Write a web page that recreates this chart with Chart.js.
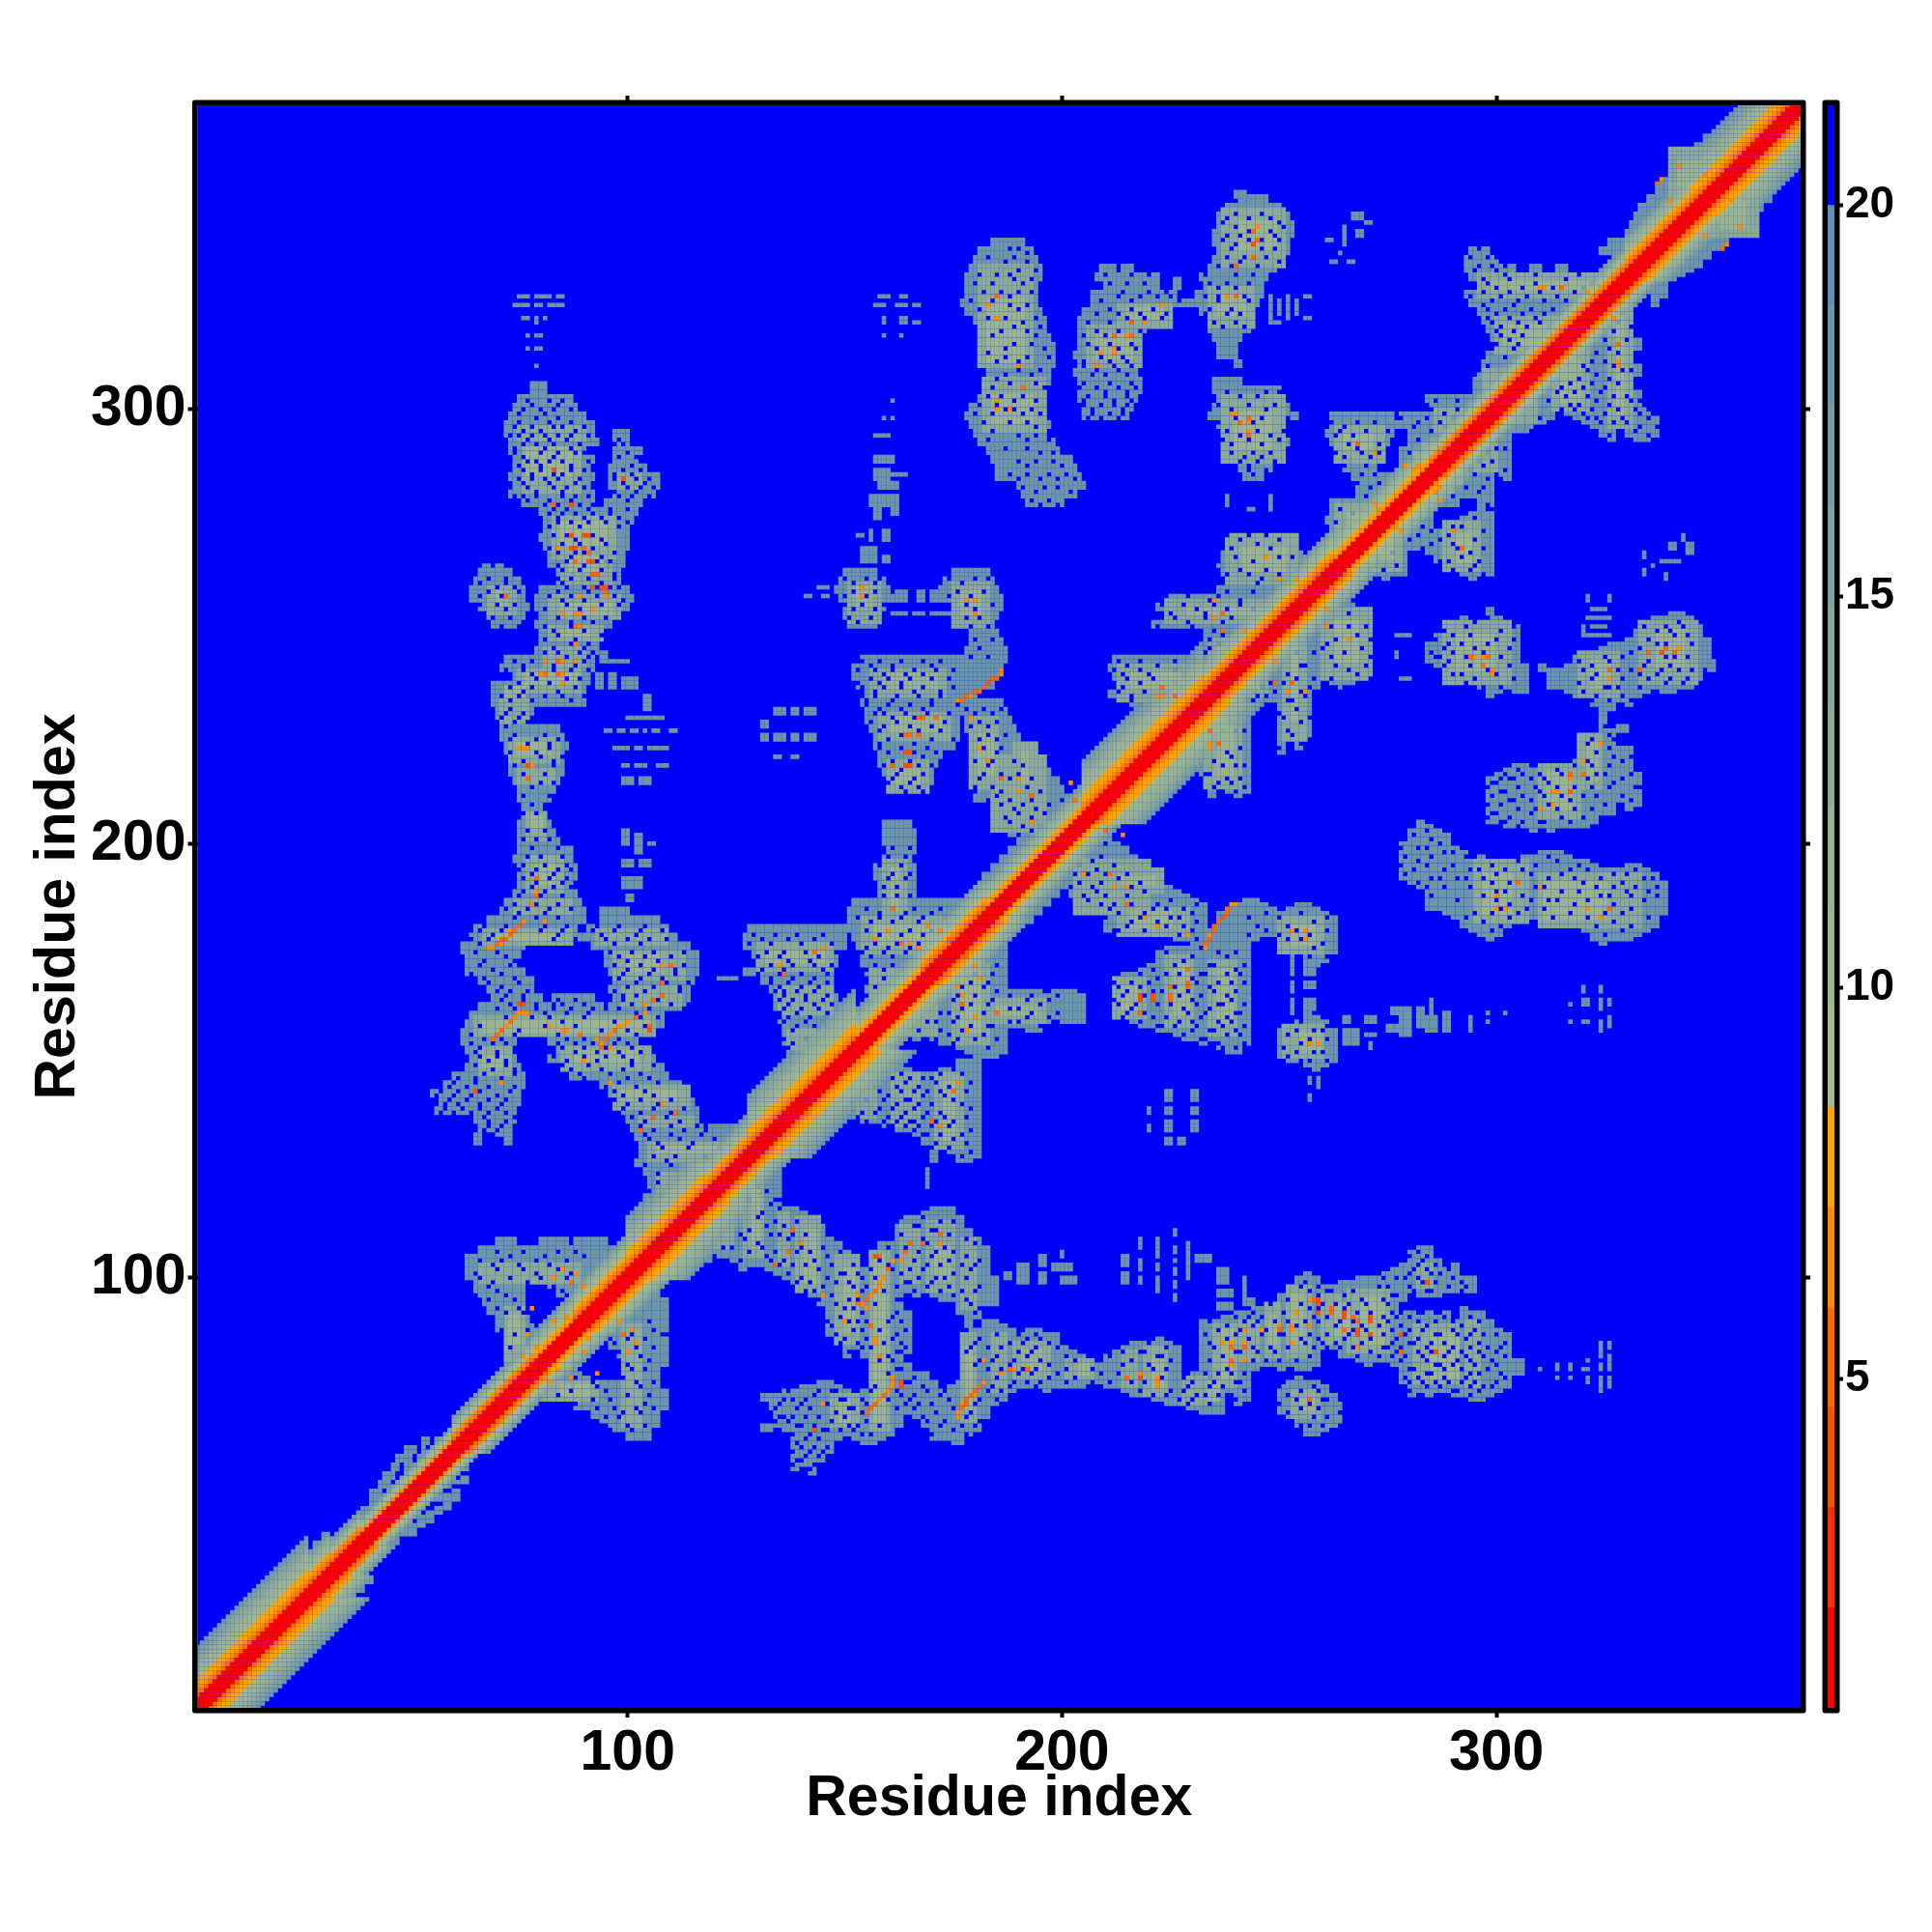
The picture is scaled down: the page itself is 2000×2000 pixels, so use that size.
<!DOCTYPE html>
<html>
<head>
<meta charset="utf-8">
<title>Residue contact map</title>
<script src="https://cdn.jsdelivr.net/npm/chart.js@4/dist/chart.umd.min.js"></script>
<style>
  html, body { margin: 0; background: #fff; }
  #wrap { position: relative; width: 2000px; height: 2000px; }
  canvas { position: absolute; top: 0; }
  #map { left: 0; }
  #bar { left: 1860px; }
</style>
</head>
<body>
<div id="wrap">
  <canvas id="map" width="2000" height="2000"></canvas>
  <canvas id="bar" width="140" height="2000"></canvas>
</div>
<script>
const tickValues = [100, 200, 300];
const barTicks = [5, 10, 15, 20];
const axisTitle = "Residue index";

// colour key: 16 bins, 0.8 to 21.28
const binEdges = [0.8, 2.08, 3.36, 4.64, 5.92, 7.2, 8.48, 9.76, 11.04, 12.32, 13.6, 14.88, 16.16, 17.44, 18.72, 20, 21.28];
const binColors = ["#ff0000", "#ff2a00", "#ff5000", "#ff6a00", "#ff8c00", "#ffa500",
  "#a3ba8b", "#9bb58f", "#94b093", "#8cab97", "#84a69b", "#7ca19f", "#749ca3", "#6c97a9", "#5f8fb4", "#0000ff"];

// distance by sequence separation along the diagonal
const wideHelix = [1, 1, 1, 5, 6.5, 7.5, 7.5, 9, 10, 11, 12, 13, 14, 16, 18];
const midHelix = [1, 1, 1, 5, 6.5, 7.5, 9, 10.5, 12, 14, 17];
const narrowHelix = [1, 1, 1, 5, 7, 9, 11, 14, 17];
const midStrand = [1, 1, 1, 6, 7.5, 9, 10.5, 12, 14, 17];
const narrowStrand = [1, 1, 1, 7, 9, 11, 15];
// first residue, last residue, profile
const bandSegments = [[1,26,wideHelix],[27,31,midHelix],[32,38,narrowHelix],[38,60,narrowStrand],[60,78,narrowHelix],[78,88,midStrand],[88,100,midHelix],[100,117,wideHelix],[117,128,midHelix],
  [128,152,wideHelix],[152,168,midStrand],[168,182,midHelix],[182,205,midStrand],[205,232,wideHelix],[232,262,midHelix],[262,285,midStrand],[285,330,narrowHelix],[330,345,midHelix],[345,370,wideHelix]];

// contact outline scanned in rows: b (covers b and b+1), then a-start, a-end pairs
const steelRows = [
  [368,359,364],[366,355,362],[364,351,360],[362,348,358],[360,346,355],[358,344,353],[356,343,350],[354,340,349],[352,338,347],[350,337,345],
  [348,241,247,335,343],[346,238,250,333,342],[344,236,252,332,340],[342,236,253,331,338],[340,235,253,330,336],[338,235,252,184,191,326,334],[336,236,252,181,193,294,298,324,332],[334,235,250,180,194,293,300],
  [332,234,249,179,195,209,212,214,216,293,304,308,310,314,316],[330,232,247,178,195,208,222,294,322],[328,233,246,178,194,210,222,296,325],[326,231,246,178,194,207,226,293,327],
  [324,226,245,177,194,207,228,294,326],[322,232,244,178,195,205,224,296,322],[320,234,243,180,196,204,220,297,318],[318,234,243,181,196,204,219,298,316],
  [316,235,241,182,197,204,218,299,315],[314,236,240,181,198,204,217,300,314],[312,237,240,181,198,203,216,298,310],[310,183,198,204,215,297,308],[308,183,197,203,217,296,306],
  [306,183,197,235,241,204,218,295,304],[304,182,196,235,250,204,218,295,303],[302,75,87,181,196,236,251,204,217,284,294],[300,74,88,179,196,235,252,205,216,285,294],
  [298,73,90,178,196,234,254,205,215,262,276,278,294],[296,72,92,179,197,236,251,262,278,276,296],[294,72,92,97,100,180,196,237,250,261,276,280,292],
  [292,73,93,97,100,181,198,238,252,262,275,280,291],[290,73,90,97,103,183,199,240,248,263,274,281,291],[288,74,92,97,102,184,202,240,250,264,272,279,292],
  [286,74,91,96,104,185,203,241,248,265,272,278,292],[284,73,92,96,107,185,204,242,246,267,275,278,290],[282,74,91,96,107,190,205,268,275,279,288],
  [280,73,92,97,106,191,203,268,276,277,292],[278,76,92,95,103,192,200,262,279,281,291],[276,80,102,262,280],[274,81,101,261,280],[272,81,100,262,280],
  [270,80,100,238,252,263,278],[268,81,100,238,254,264,278],[266,82,99,237,255,265,276],[264,82,99,236,256],[262,84,98,66,73,150,157,175,183,237,256],
  [260,84,98,65,75,149,159,173,184,238,256],[258,80,100,64,76,148,160,172,185,236,257],[256,79,101,64,76,149,161,173,186,224,256],[254,79,100,66,77,150,159,176,186,222,255],
  [252,80,98,68,76,150,158,177,185,224,252],[250,79,96,69,75,151,157,178,184,221,250],[248,80,94,179,185,233,247],[246,80,93,179,186,233,246],[244,79,93,178,187,232,245],
  [242,72,92,154,176,177,187,212,232,234,244],[240,71,92,152,186,211,233,236,240],[238,74,91,152,185,212,233],[236,69,91,153,184,213,232],[234,69,90,155,180,211,231],
  [232,69,90,154,178,178,186,216,230],[230,70,78,155,177,178,187],[228,70,77,155,176,178,188],[226,71,84,156,176,178,189],[224,71,85,157,176,179,190],[222,72,86,157,175,180,191],
  [220,72,85,158,172,181,193],[218,73,85,158,171,181,195],[216,73,85,159,170,179,197],[214,74,84,161,170,180,199],[212,75,83,163,169,181,200],[210,75,82,180,205],[208,76,80,184,203],
  [206,76,80,184,203],[204,75,82,159,165,187,200],[202,75,83,159,166,188,200],[200,75,84,159,166,190,199],[198,75,87,160,166,188,200],[196,74,87,159,165,186,196],
  [194,75,88,157,166,184,192],[192,75,88,157,166,182,191],[190,75,87,158,166,182,188],[188,74,88,158,166,181,187],[186,72,89,152,178],[184,71,90,94,100,151,181],
  [182,68,90,94,107,151,181],[180,65,88,91,109,128,152,152,181],[178,64,79,82,92,91,111,127,150,152,176],[176,62,76,92,114,127,150,153,174],[174,62,75,95,116,129,148,154,172],
  [172,63,74,95,116,130,148,154,170],[170,63,76,96,116,127,147,155,168],[168,66,78,97,115,131,147,156,164],[166,68,78,96,114,133,146,155,164],[164,69,80,83,92,97,114,134,148,155,163],
  [162,66,82,84,94,96,113,134,149,156,162],[160,64,108,136,150],[158,63,108,135,150],[156,62,104,136,150],[154,62,74,82,102,136,150],[152,63,72,84,104,137,150],[150,64,74,82,106],
  [148,63,75,85,108],[146,60,76,87,109],[144,58,76,94,112],[142,55,75,96,114],[140,57,75,97,115],[138,56,74,99,116],[136,65,74,100,116],[134,66,73,101,117,119,127],[132,102,126],
  [130,103,126],[128,103,126],[126,102,126],[124,104,120],[122,105,118],[120,105,116],[118,104,112],[108,70,74,80,86,88,95],[106,66,78,79,97],[104,63,95],[102,63,96],[100,63,95],
  [98,65,76,82,92],[96,65,76,84,92],[94,67,76,88,92],[92,68,76],[90,70,77],[88,70,78],[86,72,78],[84,73,79],[82,74,80],[80,75,80],
  [62,53,54,56,57],[60,49,51,53,53],[58,47,50,52,52],[56,46,47,49,50],[54,44,46],[52,43,45,47,47],[50,41,43],[48,41,42,44,44],[46,39,40],[40,30,31,33,34],[38,28,29,31,32]
];

// small scattered contacts: a-start, a-end, b-start, b-end
const sparsePatches = [
  [75,77,326,326],[79,82,326,326],[84,85,326,326],[74,77,324,324],[79,80,324,324],[82,85,324,324],[76,77,321,321],[79,79,320,321],[81,81,321,321],
  [77,77,317,317],[79,80,317,317],[77,77,314,314],[79,80,314,314],[79,79,310,310],[78,81,303,306],
  [100,108,229,229],[95,96,226,226],[98,99,226,226],[101,104,226,226],[106,107,226,226],[110,111,226,226],[97,100,222,222],[102,103,222,222],[105,109,222,222],
  [99,100,218,218],[102,104,218,218],[107,109,218,218],[99,101,214,215],[103,105,214,215],[93,94,236,239],[96,97,236,239],[99,102,236,238],[104,105,231,234],[94,100,242,242],
  [99,100,200,203],[102,103,198,202],[105,106,200,200],[99,101,195,196],[103,105,195,196],[99,103,190,192],[100,101,187,188],[121,125,169,169],
  [158,160,326,326],[163,164,326,326],[157,159,324,324],[162,164,324,324],[166,167,324,324],[159,159,320,321],[163,164,320,321],[166,167,320,320],[159,159,317,317],[163,163,317,317],
  [161,161,302,302],[159,159,298,298],[161,161,298,298],[157,160,294,294],[157,161,288,289],[157,160,284,286],[161,164,285,285],[158,162,282,283],[156,162,278,280],[157,158,275,277],[161,162,276,277],
  [153,154,271,271],[156,156,270,272],[159,160,270,272],[154,157,265,268],[159,160,265,266],[141,142,257,257],[145,146,257,257],[144,146,259,259],
  [162,164,256,258],[167,168,256,258],[170,172,256,258],[161,164,253,253],[166,168,253,253],[170,174,253,253],
  [131,132,227,228],[134,136,230,231],[138,139,230,231],[141,143,230,231],[131,132,224,225],[134,136,224,225],[138,139,224,225],[141,143,224,225],[134,135,220,220],[138,139,220,220],
  [248,248,321,326],[250,250,322,325],[252,252,321,326],[254,254,322,325],[256,257,321,321],[256,257,326,326],[248,250,320,320],
  [262,263,334,334],[265,265,338,342],[267,269,344,345],[268,269,340,341],[261,262,339,339],[264,264,336,336],[266,267,334,334],[270,271,343,343],
  [238,238,278,280],[243,244,277,277],[248,248,277,280],[240,241,310,311],
  [60,62,146,147],[70,71,133,135],[72,73,131,133],[65,66,131,133],[94,95,242,244],[67,68,263,264],[70,71,263,264],[226,227,328,330],[240,242,349,350],[236,240,312,314]
];

// shading inside the outline
const midPatches = [
  [75,90,293,296],[76,89,281,291],[98,103,282,285],[83,97,266,275],[85,96,260,264],[68,74,253,259],[82,98,252,257],[82,94,247,250],[81,90,241,245],
  [75,89,235,240],[71,77,228,233],[73,84,219,224],[75,83,214,217],[77,81,201,207],[77,85,189,197],[74,87,184,187],[67,87,177,180],[93,109,177,180],
  [97,113,169,175],[99,112,163,167],[65,106,156,160],[66,73,147,153],[85,105,148,153],[97,114,139,144],[103,115,135,137],[105,124,127,131],[107,116,120,124],
  [130,147,171,177],[135,147,161,167],[137,149,153,157],[159,164,183,196],[154,178,175,183],[156,162,161,171],
  [151,158,251,260],[175,183,250,260],[156,173,234,240],[158,174,224,230],[160,169,212,219],[179,185,213,229],[189,194,211,223],[184,196,203,220],
  [181,193,310,333],[182,196,295,307],[206,218,310,319],[213,225,319,324],[237,251,333,346],[234,244,319,328],[237,251,288,303],[263,274,288,296],
  [263,278,268,278],[281,292,283,290],[286,292,295,300],[238,254,260,271],[224,254,251,256],[234,245,239,247],[213,231,233,241],
  [296,324,326,331],[300,314,313,321],[297,303,304,309],[340,349,349,360],[66,89,99,103],[72,76,81,93]
];
const corePatches = [
  [77,87,285,291],[85,95,269,274],[87,94,263,266],[70,72,255,258],[85,96,253,255],[85,91,248,249],[77,88,237,239],[72,76,234,236],[75,82,221,223],[78,80,204,206],
  [79,83,191,195],[70,84,178,179],[100,107,171,174],[67,105,157,159],[67,71,149,151],[88,102,150,152],[99,111,141,143],[107,121,129,130],[132,145,173,175],[161,162,185,194],
  [157,177,177,181],[153,156,255,259],[177,181,253,258],[159,171,236,239],[161,172,226,229],[162,167,214,217],[181,184,216,225],[191,192,214,221],[183,191,311,325],[184,193,297,303],
  [208,216,312,317],[215,223,321,323],[241,249,337,343],[236,242,322,326],[240,248,291,299],[265,271,291,294],[266,276,271,276],[242,251,263,268],[229,249,253,254],
  [236,243,241,245],[216,227,236,239],[299,321,328,329],[302,311,315,319],[284,289,285,288],[342,347,352,357],[73,75,85,91]
];

// blue gaps: b, then the a values on that row
const holeRows = [
  [335,183],[331,181,185],[329,180,184],[327,182],[325,179,184],[323,181],[321,183],[317,184],[313,183],[311,185],[307,185],[305,184],[303,183],[301,181,185],[299,180,184],[297,182],[295,184],[293,183],
  [345,240,246],[344,238,243,248],[343,237,250],[342,240,245,251],[341,243,248],[340,238,241,249],[339,237,243,246,250],[338,240,244],[337,239,246,249],[335,238,242,247],[334,241,250],[333,236,239,245],[331,233,240,244],
  [329,234,238,243],[328,236,240],[326,233,242,236],[325,236,243],[323,234,239],[322,233,238,241],[320,235,240],[319,237,242],
  [337,188,190,296],[336,192],[335,189,294],[334,187,192],[332,190,194],[331,188],[330,189,193],[329,191],[327,186,190,193],[326,188],[324,188,192],[323,190],[321,187,194],[320,191],[319,189,195],[318,186,192],[317,194],
  [315,189,193],[314,187,196],[312,192,197,187],[311,190],[309,190,195],[308,187,193],[306,188,194],[305,191,196],[303,186,191],[302,189,194],[300,187,189,193],[299,191,195],[297,188,192],[296,194],
  [294,190,194],[293,192,197],[291,187,192],[290,195,198],[288,190,194,198],[287,192,200],[285,188,192,197,201],[284,190,195,199,203],[282,191,196,199],[281,194,202],[279,193,197],[278,195,199],
  [331,210,216,220],[329,211,215,219],[327,214,220,224],[326,213,218,222,225],[325,209,216,227],[323,211,216,221,226],[322,208,213,218,224],[321,215,219,223],[320,206,211],[318,208,213,218],[317,205,210,215],
  [315,206,211,216],[314,208,213,217],[312,209,214],[311,205,211,215],[310,205,212,216],[309,208,213],[308,207,210,215],[306,205,211,216],[305,204,208,213,217],[304,210,215],[303,206,210,215],[302,205,212,216],
  [301,205,209,212,215],[300,207,214],[299,207,211,214],[298,206,209,213],[297,208,212],
  [304,238,247,250],[303,241,245],[301,236,243,249],[300,239,247],[298,240,246,252],[297,236,244],[295,238,245,251],[294,241,248],[293,237,243,250],[292,239,246],[290,239,244,248],[289,242,246],[288,241,245,249],[287,243],[286,238,243,247],[285,244],
  [297,262,268,272],[296,265],[295,264,270,275],[294,263,267],[292,261,266,273],[291,268],[290,263,269,273],[289,265,271],[287,265,270],[285,269,272],[283,268,273],[282,271],[280,270,274],[279,273],[277,264,270,275],[276,267],[274,263,268,273],[273,266,271],[271,265,271],[268,266],
  [302,286,291],[300,285,291],[299,288],[298,278,284,290],[297,282,287],[296,281,288],[295,279,285],[293,282],[291,284],[290,280,285],[289,282],[287,283],[286,280],[284,279],
  [271,238,243,247],[270,241,250],[269,236,245],[268,239,248],[266,240,250,253],[265,236,244],[263,241,247,254],[262,238,243,250],[261,246],[260,237,245,252],[258,226,231,238,244],[257,224,229,236,250],[256,234,241,247],
  [255,223,228,235,241,247],[254,231,238,244],[253,225,233],[252,226,233,239,246],[251,229,237,243],[250,222,230,243],[249,226,235],[248,237,241],[247,234,240,245],[246,236,242],[245,234,239,243],[244,233,238],
  [242,213,218,226,232],[241,215,222,229],[240,212,218,226],[239,214,220,231],[238,215,221,229],[237,218,226],[236,214,223,230],[235,213,219,227],[234,216,224],[233,216,224,229],[232,219,226],
  [335,294,298,300],[333,296,299,302],[332,295,300,306,312],[331,302,309,319],[330,297,303,316],[329,298,309,322],[328,300,306,313,320],[327,297,303,310,318,323],[326,294,301,307,314,320],[325,299,305,311,316],[324,297,304,318],
  [323,298,302,308,313],[322,300,306,311],[321,298,303,309],[320,299,305,310],[319,301,307,314],[318,300,304],[317,301,306],[316,303],[315,300,305],[314,299,304],[312,302],[310,298],[309,296],
  [302,77,82,85],[301,78,84],[300,76,80,83,87],[299,75,81],[298,79,84],[297,75,82,87],[296,74,78,83,85,90],[295,76,80,88],[294,73,75,78,81,84,87,91],[293,77,82,86],
  [292,76,79,83,89],[291,74,81,87,92],[290,74,80,84,88,90],[289,76,83],[288,77,79,82,85,91],[287,75,80,87],[286,72,76,80,87,90],[285,78,83,85],[284,75,78,81,84,89],[283,76,82,88],
  [282,73,77,83,86,90],[281,79,85],[280,74,76,79,85,88,91],[279,77,82,87],[278,75,81,84,89,92],[277,83,86,91],[276,82,85,88,92,96],[275,84,90,94],[274,84,87,91,95,100],[273,82,89,98],
  [293,98],[292,97,99],[290,100],[289,98,102],[287,101],[286,99,103],[285,97,101],[284,97,102,105],[283,99,104],[282,100,103,106],[281,97,102],[280,98,101,105],[279,100],[277,96,100],[275,98],
  [271,83,86,92],[270,88,94],[269,85,89,95],[268,82,92],[267,84,88,90,97],[266,87,94],[265,86,93,96],[264,84,90],[263,85,89,94],[262,92,97],[261,84,87,91,97],[260,85,94],[259,86,90,93,96,98],[258,84,91],
  [257,82,87,93,97],[256,85,90,99],[255,86,94,98],[254,81,89],[252,84,90,95],[251,87,92],[250,81,87],[249,83,90],[248,84,94],[247,81,88],[246,87,91,95],[245,83,90],[244,81,84,89,92],[243,86,91],[242,74,78,85,90],[241,76,83,88],[240,72,76,83,87,91],[239,78,84],
  [238,79,86,89],[237,75,82],[236,73,78,88,91],[235,76,84],[234,71,75,81,85,90],[233,73,78,87],
  [261,68,72],[260,66,72],[259,70,74],[258,68,75],[257,66,71],[255,66,70,74],[254,72],[252,73,69],[250,71,75],[249,73],
  [231,73],[230,72,76],[229,71,75],[228,70,74,77],[227,72],[225,74,81],[224,73,79,84],[223,77,82],[222,75,82],[221,73,79],[220,72,80,85],[219,76,83],[218,74,83],[216,76,81],[214,80,83],[213,78],[211,76,82],[209,78],[207,76,79],[203,77,81],
  [201,76,79,82],[199,78,84],[197,77,80,85],[195,76,81,86],[194,75,79,84,87],[193,78,83],[192,76,82,86],[191,79,85],[190,74,78,83,87],[189,76,81],[188,75,80,85],[186,74,79,84],[185,72,77,82,87],[184,75,81],[183,74,79,84],
  [181,67,72,81,86,93,98,104],[180,66,71,80,85,92,97,103,108],[179,69,84,94,102],[178,64,68,83,88,95,100,105,109],[177,66,97,103],[175,65,70,96,101,106,113],[174,62,72,98,104,110],[173,67,74,100,107],[172,66,73,97,103,108,113],[171,69,100,106,111],
  [170,64,71,99,105,111],[169,67,74,98,103,108],[168,68,75,96,102,109,114],[167,71,100,106,112],[166,70,73,77,97,104,112],[165,72,76,99,102,108],[164,71,76,84,88,93,99,107],[163,73,79,85,90,101,110],[162,70,74,79,83,87,92,98,105,113],[161,76,81,86,91,102],
  [160,72,78,82,90,103,107],[159,85,97],[158,66,81,88,104],[157,75,94,100],[156,64,74,84,96,102],[155,67,71,86,90,98],[154,64,69,72,84,88,92,97,100],[153,66,85,90,95,101],[152,65,70,88,93,98,103],[151,66,70,83,90,95,99],[150,68,72,86,93,101],
  [149,65,72,85,91,101,106],[148,69,74,87,94,99],[147,67,74,84,89,96,103],[146,61,65,71,90,100,105],[145,60,65,71,86,92,98,107],[144,59,63,68,74,95,102],[143,57,61,66,73,97,104],[142,56,60,64,70,99,106],[141,56,59,63,68,72,97,103,110],[140,58,61,66,71,100,107],
  [139,58,62,66,70,99,106,113],[138,57,60,64,68,72,103,110],[137,57,60,67,74,101,109],[136,68,72,104,112],[135,68,71,103,110,116],[134,67,70,106,113],[133,104,110,117],[132,105,112,120],[131,107,115],[130,108,114,121],[128,106,111,118,124],[127,109,116],[126,104,110,116],[124,107,114],[122,107,113],[120,105,111,116],
  [179,129,134,139,145],[178,131,137,143],[177,128,133,140,147],[175,128,132,136,141,148],[174,130,135,144],[173,129,137,142],[172,133,138,143,147],[171,131,136,145],[170,130,135,140,146],[169,133,138,143],[168,133,137,142,146],
  [167,135,140,144],[166,134,136,139,143],[165,136,141,146],[164,135,138,141,145],[163,137,143,147],[162,133,136,140,144],[161,135,139,146],[160,137,142,147],[159,136,141,145],[158,135,139,143,146],[157,138,144],[155,136,141,145],[154,138,147],[153,137,143],
  [185,155,161,166,172],[184,158,164,170],[183,153,158,163,168,173],[182,156,161,167],[180,155,160,165,170],[179,158,163,168],[177,152,157,162,167],[176,155,160,165],[175,154,159,164],[174,156,161],[172,153,157,161],[171,155,159],[169,154,159,163],[167,157,161],[165,155,160],[163,157,161],[162,153,158],[160,155],
  [199,161,165],[197,160,164],[195,158,163],[193,161,165],[192,160,164],[190,159,162],[188,159,162,165],
  [261,150,155,158],[260,152,157],[258,152,157],[257,150,155],[255,150,154,159],[254,152,157],[252,151,156],[251,153],[249,152,156],
  [261,174,180,183],[260,177],[258,176,182],[257,174,179],[255,178,184],[254,180],[252,178,181],[250,179,183],[247,180,184],[245,181],[243,179,183],
  [242,154,158,163,168,172],[241,156,161,170],[240,153,157,161,166,171,175],[239,159,164,168],[238,156,160,165,170,174],[237,153,158,163],[236,154,159,163,168,175],[235,157,166,172],[234,157,162,167,172],[233,155,161,170],
  [232,155,160,165,170,176],[231,158,163,168],[230,157,159,164,169,174],[229,161,166,171],[228,156,162,173],[227,159,165,170],[226,158,167,172],[225,156,163],[224,155,160,170,175],[223,158,166],[222,158,163,169],[221,160,166,171],[220,157,168],[219,161,165],
  [218,159,167,170],[217,163],[216,158,162,168],[215,161,166],[214,160,165],[213,163,167],[212,164,168],
  [231,178,182,186],[230,180,184],[228,181,185],[227,179,183],[225,177,183,187],[224,181,185],[222,182,186],[221,185],[219,180,184,189],[218,183,191],[216,178,182,186,190],[215,181,188,193],[213,180,184,192],[212,186,190,195],[211,179,185],[210,183,188,193,200],
  [209,186,191,197,201],[208,189,194],[207,190,196],[206,187,193],[205,188,198],[204,191,195],[203,193,199],[202,190,196],[200,191,197],[198,189,194],[196,187,190],[195,189,193],[194,186,188],[192,184,189],[190,184,187],
  [226,97,100,103],[222,101,104],[218,101,105],[106,70,76,84,88],[105,73,81,90],[104,66,71,79,86],[103,69,75,82],[102,70,76,84],[101,65,79,87],[100,66,73,80,86],[99,69,77],[98,68,78,83],[97,70,85],[96,65,72,86],[95,68,74],[93,70,75],[92,72,76],[88,71,77],[87,74],[84,73,77],[80,77]
];

// hottest contacts: a, b, distance
const hotSpots = [
  [83,286,6],[83,278,5],[87,278,4],[99,284,5],[87,271,5],[90,271,4],[91,271,4],[87,268,4],[88,268,4],[84,268,7],[90,268,5],[88,265,5],[91,265,4],[92,265,4],[92,262,5],[93,262,5],[94,259,4],[95,259,4],[92,259,4],
  [89,257,6],[95,257,6],[72,257,5],[85,253,7],[88,253,6],[89,253,6],[92,254,7],[88,250,5],[88,246,7],[81,242,7],[84,242,5],[85,242,6],[88,242,7],[81,239,5],[80,239,7],[84,239,5],[85,237,7],[75,222,6],[76,222,6],[77,222,6],
  [77,218,4],[78,218,6],[77,215,5],[167,229,5],[168,229,5],[171,229,5],[164,225,5],[165,225,5],[167,225,5],[164,221,4],[165,221,4],[161,218,5],[164,218,4],[165,218,4],[179,229,7],[181,222,6],[183,219,7],[186,215,5],
  [185,302,7],[185,300,7],[183,324,7],[185,321,6],[185,326,5],[154,259,7],[154,257,7],[178,256,7],[180,256,7],[180,253,6],
  [68,176,6],[69,176,6],[70,177,5],[71,177,6],[71,178,5],[72,178,5],[73,179,5],[73,180,6],[74,180,5],[75,181,5],[76,182,6],[78,186,6],[79,188,5],
  [69,155,5],[70,156,5],[71,157,5],[72,158,6],[73,159,5],[74,160,6],[75,161,6],[76,161,7],[77,161,7],[75,163,4],[76,163,4],
  [94,153,5],[94,154,6],[95,155,5],[96,156,6],[97,157,5],[98,158,6],[99,158,7],[100,159,7],[102,160,5],[104,161,7],[82,158,6],[86,157,6],[89,156,5],[93,155,7],
  [176,233,7],[177,233,5],[178,234,5],[179,234,6],[180,235,5],[181,235,5],[182,236,5],[183,237,4],[184,238,5],[185,238,5],[186,239,6],[186,240,7],
  [108,165,5],[108,172,6],[110,172,5],[108,168,5],[104,163,6],[106,164,5],[105,157,4],[105,158,5],[103,134,5],[106,137,5],[108,140,6],[111,138,5],[96,145,7],[96,153,6],[90,150,7],[85,157,7],
  [81,182,6],[79,189,6],[79,192,5],[136,170,5],[135,172,7],[143,175,5],[145,176,7],[163,177,5],[165,177,6],[167,176,7],[160,180,7],[161,185,5],[172,180,6],[174,178,5],[176,178,5],[169,181,7],[157,178,7],
  [244,341,5],[244,338,4],[240,333,5],[238,326,6],[240,326,5],[243,297,6],[243,294,5],[240,299,7],[268,292,5],[272,290,6],[279,287,6],[282,287,6],[286,281,6],
  [311,328,6],[315,328,5],[321,327,6],[310,328,7],[219,320,6],[216,320,5],[212,317,5],[215,317,7],[209,313,7],[212,314,6],[208,310,6],[188,300,7],[191,305,5],[190,310,7],
  [241,297,5],[243,294,7],[295,243,6],[298,243,5],[299,239,7],[339,245,5],[342,245,7],[335,244,5],[333,240,5],[326,238,7],[320,219,7],[324,223,7],[317,216,5],[313,212,7],[317,212,7],[310,208,7],
  [272,278,7],[277,273,7],[264,266,7],[247,266,7],[250,261,7],[254,261,7],[237,253,5],[237,249,5],[242,249,7],[222,234,7],[226,234,5],[249,242,6],[235,252,7],[235,256,7],
  [234,223,7],[236,223,5],[190,215,7],[190,212,7],[193,211,5],[193,205,7],[202,214,6],[203,210,7],[210,203,5],
  [258,95,5],[262,93,5],[265,92,4],[267,91,5],[271,91,5],[268,88,5],[271,87,4],[253,89,7],[250,89,6],[246,88,7],[242,88,7],[239,85,6],[242,85,6],[239,81,6],[242,81,7],[257,72,6],[284,99,4],[278,87,5],[286,83,4],[145,71,7],[143,65,4],
  [337,352,5],[338,353,6],[340,348,6],[342,356,7],[348,354,6],[83,100,7],[85,102,6],[78,93,6],[77,87,6],[87,99,5],[90,98,6],[88,101,7],[79,84,7],[76,82,6],[83,90,7],[86,91,7]
];

const cells = new Map();
// the matrix is symmetric, so every cell is stored with the lower residue first
const cellKey = (a, b) => Math.min(a, b) * 1000 + Math.max(a, b);

function paintPatches(list, level) {
  list.forEach(p => {
    for (let a = p[0]; a <= p[1]; a++) {
      for (let b = p[2]; b <= p[3]; b++) cells.set(cellKey(a, b), level);
    }
  });
}

steelRows.forEach(r => {
  for (let i = 1; i < r.length; i += 2) paintPatches([[r[i], r[i + 1], r[0], r[0] + 1]], 18);
});
paintPatches(sparsePatches, 18);
paintPatches(midPatches, 13);
paintPatches(corePatches, 10);
holeRows.forEach(r => r.slice(1).forEach(a => cells.delete(cellKey(a, r[0]))));

const setLower = (k, level) => {
  if (!cells.has(k) || cells.get(k) > level) cells.set(k, level);
};
bandSegments.forEach(s => {
  for (let r = s[0]; r <= s[1]; r++) {
    s[2].forEach((level, d) => {
      if (r + d <= 370) setLower(cellKey(r, r + d), level);
    });
  }
});
hotSpots.forEach(h => setLower(cellKey(h[0], h[1]), h[2]));

// one dataset per colour bin, both halves of the matrix
const binPoints = binColors.map(() => []);
cells.forEach((level, k) => {
  const a = Math.floor(k / 1000), b = k % 1000;
  let bin = binEdges.findIndex(e => level < e) - 1;
  if (bin < 0) bin = 0;
  binPoints[bin].push({ x: a, y: b });
  if (a !== b) binPoints[bin].push({ x: b, y: a });
});

const frame = {
  id: "frame",
  beforeDatasetsDraw(chart) {
    const { ctx, chartArea: c } = chart;
    const fill = chart.options.plugins.frame.fill;
    if (!fill) return;
    ctx.save();
    ctx.fillStyle = fill;
    ctx.fillRect(c.left, c.top, c.right - c.left, c.bottom - c.top);
    ctx.restore();
  },
  afterDraw(chart) {
    const { ctx, chartArea: c } = chart;
    ctx.save();
    ctx.strokeStyle = "#000";
    ctx.lineWidth = 5.5;
    ctx.lineJoin = "round";
    ctx.strokeRect(c.left - 2.75, c.top - 2.75, c.right - c.left + 5.5, c.bottom - c.top + 5.5);
    ctx.restore();
  }
};

const fontFamily = "'Liberation Sans', Arial, sans-serif";

function mainAxis(position, size, labelled) {
  const axis = {
    type: "linear",
    position,
    min: 1,
    max: 370,
    afterBuildTicks: s => { s.ticks = tickValues.map(v => ({ value: v })); },
    afterFit: s => {
      if (position === "left" || position === "right") s.width = size;
      else s.height = size;
    },
    grid: { drawOnChartArea: false, drawTicks: true, tickLength: 10, tickWidth: 4, tickColor: "#000" },
    border: { display: false },
    ticks: {
      display: labelled,
      autoSkip: false,
      maxRotation: 0,
      padding: 2,
      color: "#000",
      font: { family: fontFamily, size: 59, weight: "bold" }
    }
  };
  if (labelled) {
    axis.title = {
      display: true,
      text: axisTitle,
      color: "#000",
      font: { family: fontFamily, size: 59, weight: "bold" },
      padding: position === "left" ? { top: 25, bottom: 0 } : { top: 0, bottom: 102 }
    };
  }
  return axis;
}

new Chart(document.getElementById("map"), {
  type: "scatter",
  plugins: [frame],
  data: {
    datasets: binPoints.map((pts, i) => ({
      data: pts,
      pointStyle: "rect",
      pointRadius: 3.25,
      pointBorderWidth: 0,
      backgroundColor: binColors[i],
      clip: 0,
      order: i,
      xAxisID: "x",
      yAxisID: "y"
    }))
  },
  options: {
    responsive: false,
    animation: false,
    events: [],
    layout: { padding: 0 },
    plugins: { legend: { display: false }, tooltip: { enabled: false }, frame: { fill: binColors[15] } },
    scales: {
      x: mainAxis("bottom", 232, true),
      y: mainAxis("left", 204.5, true),
      x2: mainAxis("top", 109, false),
      y2: mainAxis("right", 136, false)
    }
  }
});

new Chart(document.getElementById("bar"), {
  type: "bar",
  plugins: [frame],
  data: {
    labels: ["key"],
    datasets: binColors.map((c, i) => ({
      data: [[binEdges[i], binEdges[i + 1]]],
      backgroundColor: c,
      borderWidth: 0,
      barPercentage: 1,
      categoryPercentage: 1,
      grouped: false
    }))
  },
  options: {
    responsive: false,
    animation: false,
    events: [],
    layout: { padding: { left: 32, top: 109, bottom: 232, right: 0 } },
    plugins: { legend: { display: false }, tooltip: { enabled: false }, frame: { fill: null } },
    scales: {
      x: { display: false },
      y: {
        position: "right",
        min: binEdges[0],
        max: binEdges[16],
        afterBuildTicks: s => { s.ticks = barTicks.map(v => ({ value: v })); },
        afterFit: s => { s.width = 101; },
        grid: { drawOnChartArea: false, tickLength: 9, tickWidth: 4, tickColor: "#000" },
        border: { display: false },
        ticks: {
          autoSkip: false,
          padding: 2,
          color: "#000",
          font: { family: fontFamily, size: 46, weight: "bold" }
        }
      }
    }
  }
});
</script>
</body>
</html>
